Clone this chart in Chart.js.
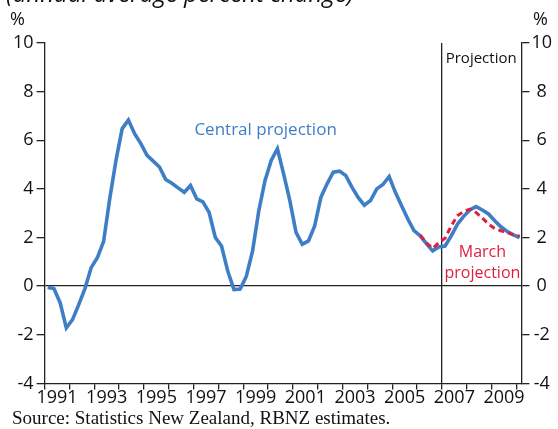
<!DOCTYPE html>
<html>
<head>
<meta charset="utf-8">
<script src="https://cdn.jsdelivr.net/npm/chart.js@4/dist/chart.umd.min.js"></script>
<style>
html,body{margin:0;padding:0;background:#fff;}
#wrap{position:relative;width:558px;height:429px;}
</style>
</head>
<body>
<div id="wrap"><canvas id="c" width="558" height="429"></canvas></div>
<script>
// Quarters 1991Q1 .. 2010Q1
const quarters = [];
for (let y = 1991; y <= 2010; y++) for (let q = 1; q <= 4; q++) { if (y === 2010 && q > 1) break; quarters.push(y + 'Q' + q); }

const centralProjection = [
  -0.05, -0.1, -0.68, -1.72,
  -1.38, -0.76, -0.1, 0.76,
  1.17, 1.83, 3.6, 5.17,
  6.48, 6.83, 6.27, 5.86,
  5.38, 5.14, 4.9, 4.39,
  4.23, 4.04, 3.86, 4.14,
  3.59, 3.47, 3.03, 2.0,
  1.65, 0.62, -0.14, -0.12,
  0.41, 1.45, 3.1, 4.34,
  5.17, 5.65, 4.62, 3.52,
  2.21, 1.72, 1.86, 2.48,
  3.65, 4.21, 4.69, 4.73,
  4.55, 4.07, 3.65, 3.33,
  3.52, 4.0, 4.18, 4.51,
  3.86, 3.31, 2.76, 2.28,
  2.07, 1.75, 1.45, 1.61,
  1.65, 2.07, 2.55, 2.87,
  3.13, 3.27, 3.13, 2.97,
  2.69, 2.44, 2.25, 2.11,
  2.0
];
// March projection starts 2006Q1
const marchStart = '2006Q1';
const marchProjection = [
  2.1, 1.78, 1.55, 1.79,
  1.97, 2.48, 2.9, 3.07,
  3.17, 3.03, 2.8, 2.55,
  2.37, 2.28, 2.2, 2.11,
  2.05
];
const yearLabels = [1991, 1993, 1995, 1997, 1999, 2001, 2003, 2005, 2007, 2009];
const yTicks = [-4, -2, 0, 2, 4, 6, 8, 10];
const projectionStartYear = 2007;

function quarterToX(s) { const y = +s.slice(0, 4), q = +s.slice(5); return y + (q - 0.5) / 4; }

const centralData = quarters.map((q, i) => ({ x: quarterToX(q), y: centralProjection[i] }));
const mIdx = quarters.indexOf(marchStart);
const marchData = marchProjection.map((v, i) => ({ x: quarterToX(quarters[mIdx + i]), y: v }));

const BLUE = 'rgb(62,126,198)';
const RED = 'rgb(222,32,64)';
const AX = '#222';
const FONT = "'Open Sans', sans-serif";

const textPlugin = {
  id: 'texts',
  afterDraw(chart) {
    const ctx = chart.ctx, xs = chart.scales.x, ys = chart.scales.y;
    ctx.save();
    ctx.textAlign = 'left'; ctx.textBaseline = 'alphabetic';
    ctx.fillStyle = '#111';
    ctx.font = "italic 24px " + FONT;
    ctx.fillText('(annual average percent change)', 6, 2);
    ctx.font = "18px " + FONT;
    ctx.textBaseline = 'middle';
    ctx.fillText('%', 10, 20);
    ctx.fillText('%', 533, 20);
    ctx.textAlign = 'center';
    ctx.fillStyle = BLUE;
    ctx.font = "17px " + FONT;
    ctx.fillText('Central projection', xs.getPixelForValue(1999.9), ys.getPixelForValue(6.41));
    ctx.fillStyle = '#111';
    ctx.font = "15px " + FONT;
    ctx.fillText('Projection', xs.getPixelForValue(2008.58), ys.getPixelForValue(9.35));
    ctx.fillStyle = RED;
    ctx.font = "16px " + FONT;
    ctx.fillText('March', xs.getPixelForValue(2008.63), ys.getPixelForValue(1.37));
    ctx.fillText('projection', xs.getPixelForValue(2008.63), ys.getPixelForValue(0.54));
    ctx.fillStyle = '#111';
    ctx.textAlign = 'left';
    ctx.font = "19px 'Liberation Serif', serif";
    ctx.fillText('Source: Statistics New Zealand, RBNZ estimates.', 12, 419);
    ctx.restore();
  }
};

new Chart(document.getElementById('c'), {
  type: 'line',
  data: {
    datasets: [
      { label: 'Central projection', data: centralData, borderColor: BLUE, borderWidth: 3.6, pointRadius: 0, tension: 0, order: 2 },
      { label: 'March projection', data: marchData, borderColor: RED, borderWidth: 3, borderDash: [6, 4], pointRadius: 0, tension: 0, order: 1 }
    ]
  },
  options: {
    responsive: false,
    animation: false,
    events: [],
    layout: { padding: { left: 10, right: 4, top: 43, bottom: 22 } },
    plugins: { legend: { display: false }, tooltip: { enabled: false } },
    scales: {
      x: {
        type: 'linear', min: 1991, max: 2010.2,
        afterBuildTicks(scale) {
          const t = [];
          for (let y = 1991; y <= 2010; y++) t.push({ value: y });
          yearLabels.forEach(y => t.push({ value: y + 0.5 }));
          t.sort((a, b) => a.value - b.value);
          scale.ticks = t;
        },
        ticks: {
          autoSkip: false, maxRotation: 0, padding: -2, color: '#111',
          font: { family: FONT, size: 18 },
          callback: (v) => (Number.isInteger(v) ? '' : String(Math.floor(v)))
        },
        grid: {
          drawOnChartArea: true, tickLength: 6, lineWidth: 1.3,
          color: (c) => (c.tick && c.tick.value === projectionStartYear ? AX : 'rgba(0,0,0,0)'),
          tickColor: (c) => (c.tick && Number.isInteger(c.tick.value) ? AX : 'rgba(0,0,0,0)')
        },
        border: { display: true, color: AX, width: 1.3 }
      },
      y: {
        position: 'left', min: -4, max: 10,
        afterBuildTicks(scale) { scale.ticks = yTicks.map(v => ({ value: v })); },
        ticks: { color: '#111', padding: 3, font: { family: FONT, size: 18 } },
        grid: {
          tickLength: 8, lineWidth: 1.3, tickColor: AX,
          color: (c) => (c.tick && c.tick.value === 0 ? AX : 'rgba(0,0,0,0)')
        },
        border: { display: true, color: AX, width: 1.3 }
      },
      y2: {
        position: 'right', min: -4, max: 10,
        afterBuildTicks(scale) { scale.ticks = yTicks.map(v => ({ value: v })); },
        ticks: { color: '#111', padding: 2, crossAlign: 'center', font: { family: FONT, size: 18 } },
        grid: { drawOnChartArea: false, tickLength: 8, lineWidth: 1.3, tickColor: AX },
        border: { display: true, color: AX, width: 1.3 }
      }
    }
  },
  plugins: [textPlugin]
});
</script>
</body>
</html>
